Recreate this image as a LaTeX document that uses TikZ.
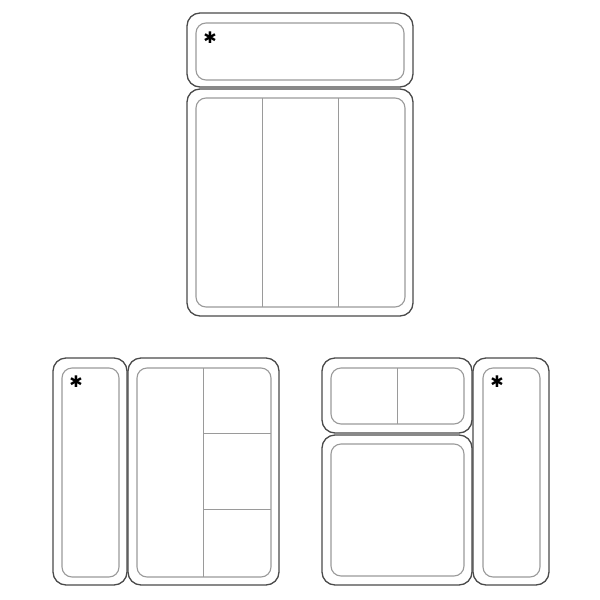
\documentclass[tikz,border=0pt]{standalone}
\usepackage{fontspec}
\setmainfont{Liberation Sans}
\newfontfamily\symfont{DejaVu Sans}
\definecolor{outerc}{HTML}{4A4A4A}
\definecolor{innerc}{HTML}{9A9A9A}
\tikzset{
  outerbox/.style={draw=outerc, line width=1.3pt, rounded corners=13pt},
  innerbox/.style={draw=innerc, line width=1.1pt, rounded corners=10pt},
  divider/.style={draw=innerc, line width=1pt},
  star/.style={font=\symfont\fontsize{16}{16}\selectfont, inner sep=0pt, text=black}
}
\begin{document}
\begin{tikzpicture}[x=1pt,y=-1pt]
\useasboundingbox[fill=white] (0,0) rectangle (600,600);
% top group
\path[outerbox] (187,13) rectangle (413,87);
\path[innerbox] (196,23) rectangle (404,80);
\node[star] (s1) at (210,38) {✱};
\path[outerbox] (187,89) rectangle (413,316);
\path[innerbox] (196,98) rectangle (405,307);
\path[divider] (262,98) -- (262,307);
\path[divider] (338,98) -- (338,307);
% bottom-left group
\path[outerbox] (53,358) rectangle (127,585);
\path[innerbox] (62,368) rectangle (119,577);
\node[star] (s2) at (76,382) {✱};
\path[outerbox] (128,358) rectangle (279,585);
\path[innerbox] (137,368) rectangle (271,577);
\path[divider] (203,368) -- (203,577);
\path[divider] (203,433) -- (271,433);
\path[divider] (203,509) -- (271,509);
% bottom-right group
\path[outerbox] (322,358) rectangle (472,433);
\path[innerbox] (331,368) rectangle (464,424);
\path[divider] (397,368) -- (397,424);
\path[outerbox] (322,435) rectangle (472,585);
\path[innerbox] (331,444) rectangle (464,576);
\path[outerbox] (473,358) rectangle (549,585);
\path[innerbox] (483,368) rectangle (540,577);
\node[star] (s3) at (497,382) {✱};
\end{tikzpicture}
\end{document}
